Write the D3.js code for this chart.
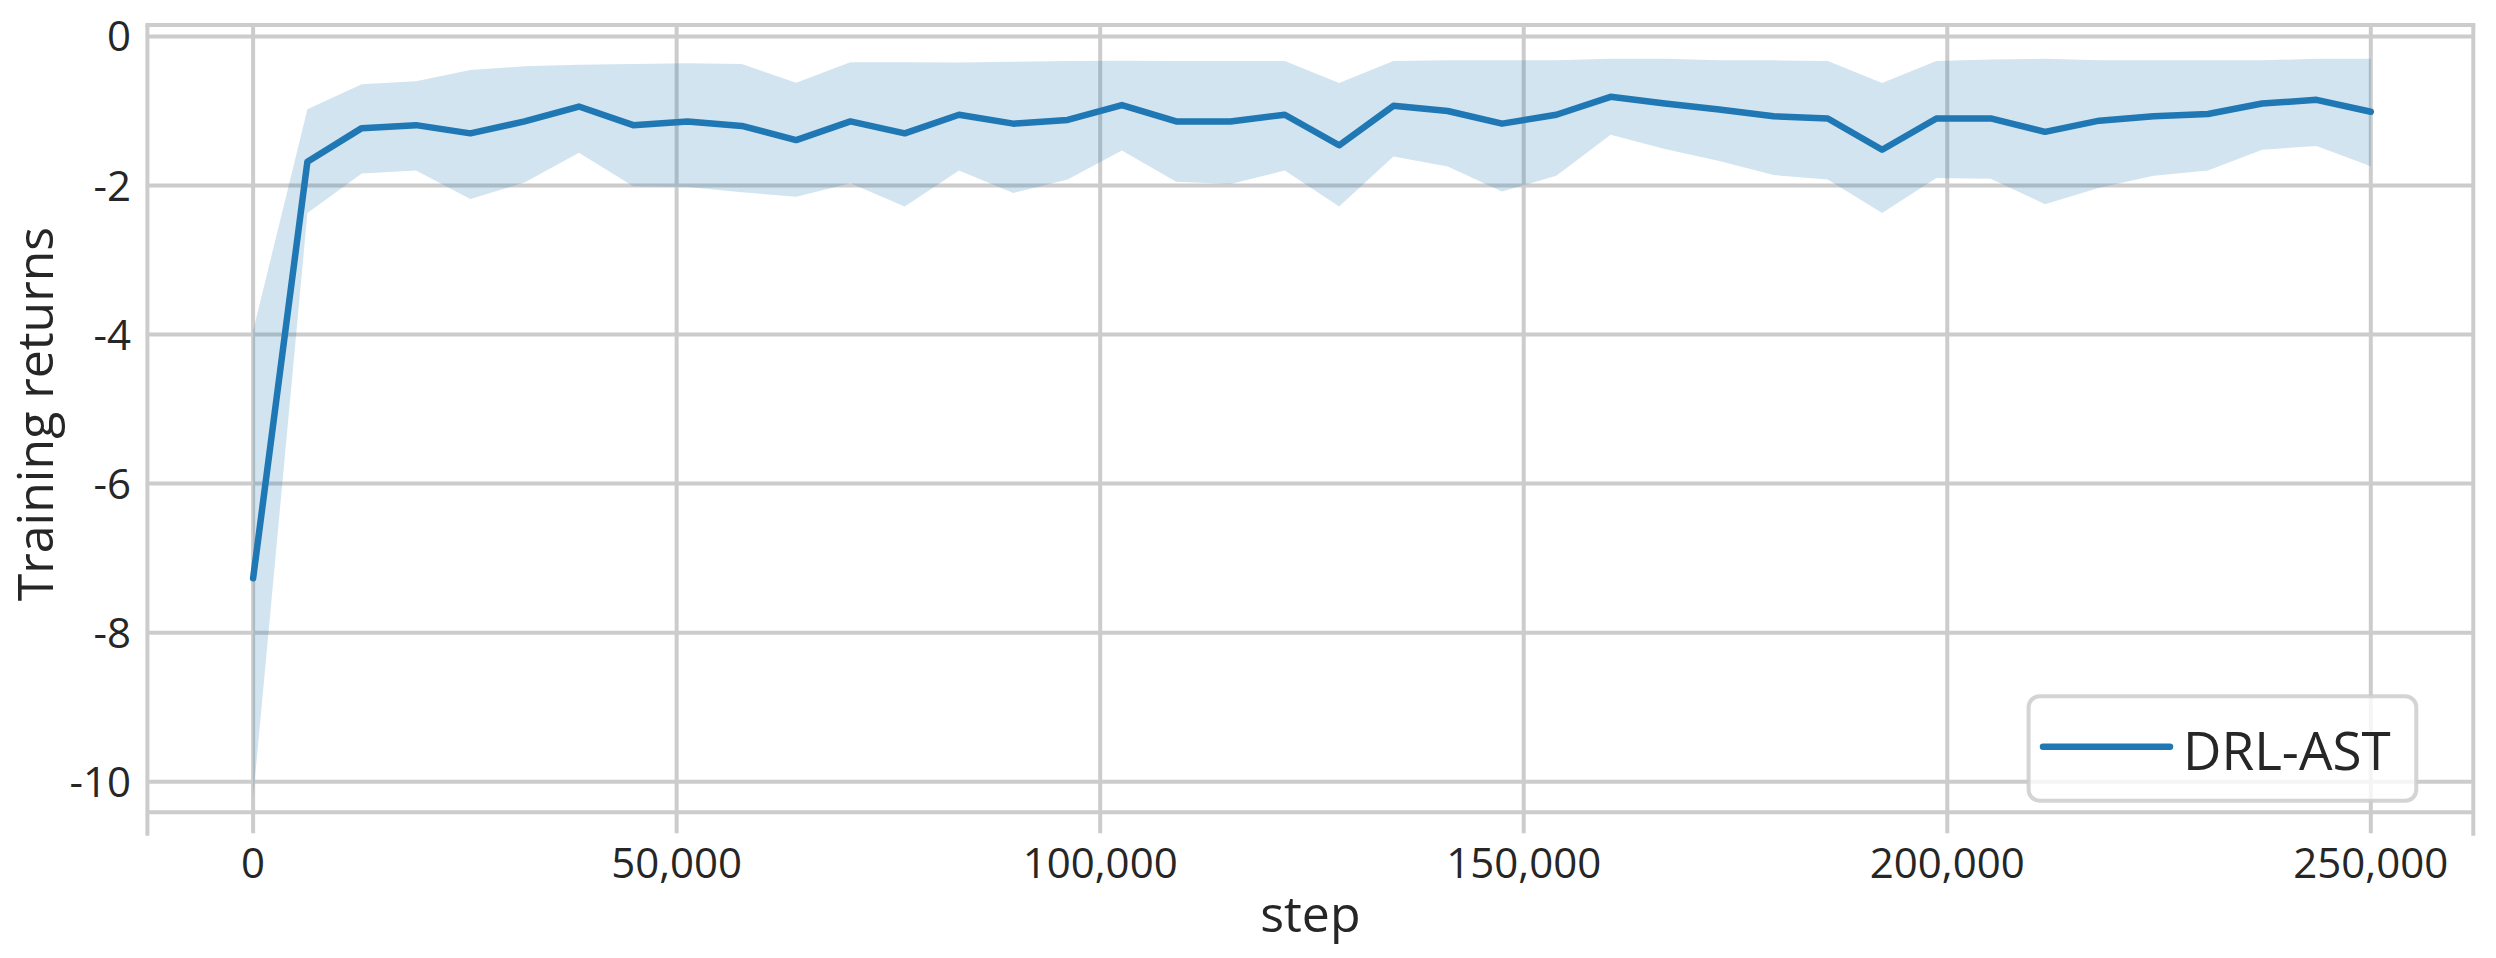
<!DOCTYPE html>
<html>
<head>
<meta charset="utf-8">
<script src="https://cdn.jsdelivr.net/npm/d3@7/dist/d3.min.js"></script>
<style>
  html, body { margin: 0; padding: 0; background: #ffffff; }
  svg { display: block; }
  text { font-family: "Open Sans", "Noto Sans", sans-serif; fill: #262626; }
</style>
</head>
<body>
<svg id="chart" width="2496" height="958"></svg>
<script>
// ---- data ----
const steps = [0, 6410, 12821, 19231, 25641, 32051, 38462, 44872, 51282, 57692,
  64103, 70513, 76923, 83333, 89744, 96154, 102564, 108974, 115385, 121795,
  128205, 134615, 141026, 147436, 153846, 160256, 166667, 173077, 179487, 185897,
  192308, 198718, 205128, 211538, 217949, 224359, 230769, 237179, 243590, 250000];
const meanReturn = [-7.27, -1.68, -1.23, -1.19, -1.30, -1.14, -0.94, -1.19, -1.14, -1.20,
  -1.39, -1.14, -1.30, -1.05, -1.17, -1.12, -0.92, -1.14, -1.14, -1.05,
  -1.46, -0.93, -1.00, -1.17, -1.05, -0.81, -0.90, -0.98, -1.07, -1.10,
  -1.52, -1.10, -1.10, -1.28, -1.13, -1.07, -1.04, -0.90, -0.85, -1.01];
const upperReturn = [-3.95, -0.975, -0.64, -0.60, -0.45, -0.40, -0.38, -0.37, -0.36, -0.37,
  -0.62, -0.345, -0.345, -0.35, -0.34, -0.33, -0.325, -0.33, -0.33, -0.33,
  -0.625, -0.33, -0.32, -0.32, -0.32, -0.30, -0.30, -0.32, -0.32, -0.33,
  -0.625, -0.33, -0.31, -0.30, -0.32, -0.32, -0.32, -0.32, -0.30, -0.30];
const lowerReturn = [-10.22, -2.37, -1.84, -1.80, -2.18, -1.96, -1.56, -2.01, -2.02, -2.09,
  -2.15, -1.97, -2.28, -1.80, -2.10, -1.92, -1.53, -1.95, -1.98, -1.80,
  -2.28, -1.61, -1.745, -2.08, -1.87, -1.32, -1.51, -1.67, -1.86, -1.92,
  -2.37, -1.90, -1.91, -2.25, -2.03, -1.87, -1.80, -1.52, -1.47, -1.74];
const xTicks = [0, 50000, 100000, 150000, 200000, 250000];
const yTicks = [0, -2, -4, -6, -8, -10];
const seriesName = "DRL-AST";
const xLabel = "step";
const yLabel = "Training returns";
const xLimits = [-12480, 262100];
const yLimits = [-10.725, 0.154];

(function draw() {
  // ---- layout ----
  const pLeft = 147.4, pRight = 2473.3, pTop = 25, pBottom = 835.7;
  const lineColor = "#1f77b4";
  const gridColor = "#cccccc";

  const svg = d3.select("#chart");
  const x = d3.scaleLinear().domain(xLimits).range([pLeft, pRight]);
  const y = d3.scaleLinear().domain(yLimits).range([pBottom, pTop]);

  const data = steps.map((s, i) => ({ s, m: meanReturn[i], lo: lowerReturn[i], hi: upperReturn[i] }));

  // grid lines
  const grid = svg.append("g");
  grid.selectAll("line.hg").data(yTicks).join("line")
    .attr("class", "hg")
    .attr("x1", pLeft).attr("x2", pRight)
    .attr("y1", d => y(d)).attr("y2", d => y(d))
    .attr("stroke", gridColor).attr("stroke-width", 4);
  grid.selectAll("line.vg").data(xTicks).join("line")
    .attr("class", "vg")
    .attr("x1", d => x(d)).attr("x2", d => x(d))
    .attr("y1", pTop).attr("y2", 833.3)
    .attr("stroke", gridColor).attr("stroke-width", 4);

  // frame
  const frame = svg.append("g").attr("stroke", gridColor).attr("stroke-width", 4).attr("fill", "none");
  frame.append("line").attr("x1", pLeft - 2).attr("x2", pRight + 2).attr("y1", pTop).attr("y2", pTop);
  frame.append("line").attr("x1", pLeft).attr("x2", pRight).attr("y1", y(-10.41)).attr("y2", y(-10.41));
  frame.append("line").attr("x1", pLeft).attr("x2", pLeft).attr("y1", pTop).attr("y2", pBottom);
  frame.append("line").attr("x1", pRight).attr("x2", pRight).attr("y1", pTop).attr("y2", pBottom);

  // band
  const area = d3.area().x(d => x(d.s)).y0(d => y(d.lo)).y1(d => y(d.hi));
  svg.append("path").datum(data).attr("d", area)
    .attr("fill", lineColor).attr("fill-opacity", 0.2).attr("stroke", "none");

  // mean line
  const line = d3.line().x(d => x(d.s)).y(d => y(d.m));
  svg.append("path").datum(data).attr("d", line)
    .attr("fill", "none").attr("stroke", lineColor).attr("stroke-width", 6.5)
    .attr("stroke-linejoin", "round").attr("stroke-linecap", "round");

  // tick labels
  const fmt = d3.format(",");
  svg.append("g").selectAll("text").data(xTicks).join("text")
    .attr("x", d => x(d)).attr("y", 878)
    .attr("text-anchor", "middle").attr("font-size", 42)
    .text(d => fmt(d));
  svg.append("g").selectAll("text").data(yTicks).join("text")
    .attr("x", 131).attr("y", d => y(d) + 15)
    .attr("text-anchor", "end").attr("font-size", 42)
    .text(d => (d < 0 ? "-" + Math.abs(d) : String(d)));

  // axis labels
  svg.append("text").attr("x", (pLeft + pRight) / 2).attr("y", 932)
    .attr("text-anchor", "middle").attr("font-size", 50).text(xLabel);
  svg.append("text").attr("transform", "translate(53,414) rotate(-90)")
    .attr("text-anchor", "middle").attr("font-size", 50).text(yLabel);

  // legend
  const lg = svg.append("g");
  lg.append("rect").attr("x", 2028.6).attr("y", 696.3).attr("width", 387.7).attr("height", 104.4)
    .attr("rx", 11).attr("ry", 11)
    .attr("fill", "#ffffff").attr("fill-opacity", 0.8)
    .attr("stroke", gridColor).attr("stroke-opacity", 0.85).attr("stroke-width", 4);
  lg.append("line").attr("x1", 2043).attr("x2", 2170).attr("y1", 746.7).attr("y2", 746.7)
    .attr("stroke", lineColor).attr("stroke-width", 6.5).attr("stroke-linecap", "round");
  lg.append("text").attr("x", 2183).attr("y", 770).attr("font-size", 53).text(seriesName);
})();
</script>
</body>
</html>
